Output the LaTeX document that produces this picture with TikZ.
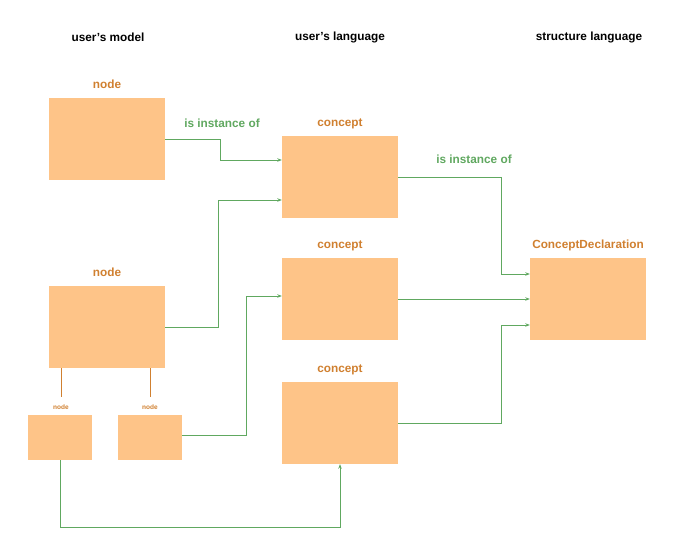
\documentclass[tikz,border=0pt]{standalone}
\usepackage{fontspec}
\setmainfont{Liberation Sans}
\usetikzlibrary{arrows.meta}

\definecolor{boxfill}{RGB}{254,196,136}
\definecolor{boxtext}{RGB}{208,128,48}
\definecolor{linkgreen}{RGB}{96,168,96}

\begin{document}
\begin{tikzpicture}[x=1pt,y=-1pt]

\useasboundingbox (0,0) rectangle (689,551);

\newcommand*{\bw}{116pt}
\newcommand*{\bh}{82pt}

\tikzstyle{box} = [fill=boxfill, inner sep=0pt, minimum width=\bw, minimum height=\bh];
\tikzstyle{smallbox} = [box, minimum width=64pt, minimum height=45pt];
\tikzstyle{head} = [font=\fontsize{11.8}{14}\selectfont\bfseries];
\tikzstyle{lbl} = [head, text=boxtext];
\tikzstyle{smalllbl} = [font=\fontsize{6.5}{8}\selectfont\bfseries, text=boxtext];
\tikzstyle{link} = [linkgreen, line width=0.8pt, -{Stealth[length=4.5pt,width=3.5pt]}];
\tikzstyle{rel} = [head, text=linkgreen];

%headers:
\node[head] (hmodel) at (108,37) {user's model};
\node[head] (hlang) at (340,37) {user's language};
\node[head] (hstruct) at (589,37) {structure language};

%user's model
\node[box] (m1) at (107,139) {};
\node[lbl] (lm1) at (107,84) {node};
\node[box] (m2) at (107,327) {};
\node[lbl] (lm2) at (107,272) {node};
\node[smallbox] (sa) at (60,437.5) {};
\node[smalllbl] (la) at (61,407) {node};
\node[smallbox] (sb) at (150,437.5) {};
\node[smalllbl] (lb) at (150,407) {node};

\draw[boxtext, line width=1pt] (m2.south -| la) -- ([yshift=4pt]la.north);
\draw[boxtext, line width=1pt] (m2.south -| lb) -- ([yshift=4pt]lb.north);

%user's language
\node[box] (c1) at (340,177) {};
\node[lbl] (lc1) at (340,124) {concept};
\node[box] (c2) at (340,299) {};
\node[lbl] (lc2) at (340,246) {concept};
\node[box] (c3) at (340,423) {};
\node[lbl] (lc3) at (340,370) {concept};

%structure language
\node[box] (cd) at (588,299) {};
\node[lbl] (lcd) at (588,245) {ConceptDeclaration};

\node[rel] (r1) at (222,123) {is instance of};
\node[rel] (r2) at (474,159) {is instance of};

%links:
\draw[link] (m1.east) -- ++(55,0) |- ([yshift=17pt]c1.west);
\draw[link] (m2.east) -- ++(53,0) |- ([yshift=-23pt]c1.west);
\draw[link] ([yshift=2pt]sb.east) -- ++(64,0) |- ([yshift=3pt]c2.west);
\draw[link] (sa.south) -- ++(0,67) -| (c3.south);
\draw[link] (c1.east) -- ++(103,0) |- ([yshift=25pt]cd.west);
\draw[link] (c2.east) -- (cd.west);
\draw[link] (c3.east) -- ++(103,0) |- ([yshift=-26pt]cd.west);

\end{tikzpicture}
\end{document}
